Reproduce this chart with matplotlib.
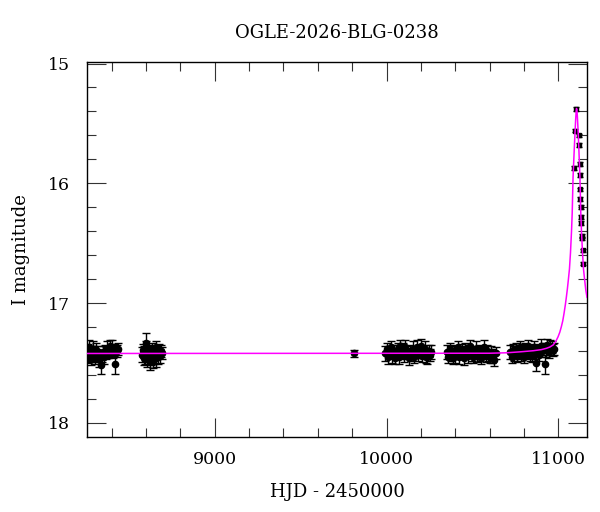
import matplotlib
matplotlib.use("Agg")
import matplotlib.pyplot as plt
from matplotlib.ticker import MultipleLocator

plt.rcParams['font.family'] = ['DejaVu Serif']

# season 1
t1 = [8260, 8265, 8270, 8275, 8280, 8285, 8290, 8295, 8300, 8305, 8310, 8316, 8322, 8328, 8334, 8340,
      8346, 8352, 8358, 8364, 8370, 8376, 8382, 8388, 8394, 8400, 8406, 8412, 8421, 8430, 8440]
m1 = [17.40, 17.45, 17.37, 17.43, 17.47, 17.41, 17.38, 17.44, 17.42, 17.46, 17.39, 17.43, 17.41, 17.47, 17.44, 17.52,
      17.44, 17.41, 17.45, 17.40, 17.42, 17.38, 17.41, 17.36, 17.40, 17.37, 17.41, 17.39, 17.51, 17.40, 17.38]
e1 = [0.06, 0.05, 0.06, 0.06, 0.05, 0.05, 0.06, 0.05, 0.06, 0.05, 0.06, 0.05, 0.05, 0.06, 0.05, 0.07,
      0.05, 0.05, 0.06, 0.05, 0.05, 0.06, 0.05, 0.05, 0.05, 0.06, 0.05, 0.05, 0.08, 0.05, 0.05]

# season 2
t2 = [8578, 8582, 8586, 8590, 8594, 8598, 8601, 8605, 8609, 8613, 8617, 8621, 8625, 8629,
      8633, 8637, 8641, 8645, 8649, 8653, 8657, 8661, 8665, 8670, 8676, 8682, 8688, 8694]
m2 = [17.43, 17.39, 17.46, 17.41, 17.45, 17.37, 17.33, 17.42, 17.47, 17.40, 17.45, 17.48, 17.41, 17.46,
      17.38, 17.43, 17.48, 17.40, 17.45, 17.42, 17.37, 17.46, 17.41, 17.45, 17.39, 17.44, 17.40, 17.42]
e2 = [0.06, 0.05, 0.06, 0.05, 0.06, 0.05, 0.08, 0.05, 0.06, 0.05, 0.06, 0.08, 0.05, 0.06,
      0.05, 0.06, 0.06, 0.05, 0.06, 0.05, 0.05, 0.07, 0.05, 0.06, 0.05, 0.06, 0.05, 0.05]

# single point
t_s = [9810]
m_s = [17.42]
e_s = [0.03]

# season 3
t3 = [9992, 10000, 10008, 10016, 10024, 10032, 10040, 10048, 10056, 10064, 10070, 10078, 10086, 10094,
      10102, 10110, 10118, 10128, 10136, 10144, 10152, 10160, 10168, 10176, 10184, 10192, 10198, 10206,
      10214, 10222, 10230, 10237, 10244, 10252, 10260]
m3 = [17.42, 17.38, 17.45, 17.41, 17.37, 17.44, 17.40, 17.46, 17.41, 17.38, 17.45, 17.36, 17.42, 17.39,
      17.44, 17.37, 17.41, 17.46, 17.40, 17.43, 17.38, 17.45, 17.41, 17.37, 17.43, 17.40, 17.36, 17.44,
      17.41, 17.38, 17.45, 17.45, 17.40, 17.43, 17.41]
e3 = [0.06, 0.05, 0.06, 0.05, 0.05, 0.06, 0.05, 0.05, 0.06, 0.05, 0.06, 0.05, 0.05, 0.06,
      0.05, 0.06, 0.05, 0.06, 0.05, 0.05, 0.06, 0.05, 0.05, 0.06, 0.05, 0.05, 0.06, 0.05,
      0.05, 0.06, 0.05, 0.06, 0.05, 0.05, 0.06]

# season 4
t4 = [10352, 10360, 10368, 10376, 10384, 10392, 10400, 10408, 10416, 10424, 10432, 10440, 10448, 10456,
      10464, 10472, 10480, 10488, 10496, 10504, 10512, 10520, 10528, 10536, 10544, 10552, 10560, 10568,
      10576, 10584, 10592, 10600, 10608, 10616, 10625, 10634]
m4 = [17.41, 17.45, 17.38, 17.42, 17.46, 17.40, 17.44, 17.41, 17.37, 17.45, 17.42, 17.39, 17.46, 17.38,
      17.41, 17.44, 17.40, 17.36, 17.42, 17.45, 17.41, 17.38, 17.44, 17.40, 17.42, 17.46, 17.41, 17.37,
      17.44, 17.40, 17.42, 17.45, 17.41, 17.44, 17.475, 17.42]
e4 = [0.06, 0.05, 0.05, 0.06, 0.05, 0.05, 0.06, 0.05, 0.05, 0.06, 0.05, 0.05, 0.06, 0.05,
      0.05, 0.06, 0.05, 0.05, 0.06, 0.05, 0.05, 0.06, 0.05, 0.05, 0.06, 0.05, 0.05, 0.06,
      0.05, 0.05, 0.06, 0.05, 0.05, 0.06, 0.05, 0.05]

# season 5
t5 = [10720, 10728, 10736, 10744, 10752, 10760, 10768, 10776, 10784, 10792, 10800, 10808, 10816, 10824,
      10832, 10840, 10848, 10856, 10864, 10872, 10880, 10888, 10896, 10904, 10912, 10920, 10928, 10936,
      10944, 10952, 10960, 10968, 10976]
m5 = [17.41, 17.45, 17.39, 17.42, 17.38, 17.44, 17.41, 17.37, 17.43, 17.40, 17.45, 17.38, 17.41, 17.36,
      17.43, 17.40, 17.44, 17.37, 17.41, 17.50, 17.39, 17.43, 17.36, 17.40, 17.38, 17.51, 17.39, 17.35,
      17.41, 17.37, 17.37, 17.39, 17.38]
e5 = [0.06, 0.05, 0.05, 0.06, 0.05, 0.05, 0.06, 0.05, 0.05, 0.06, 0.05, 0.05, 0.06, 0.05,
      0.05, 0.06, 0.05, 0.05, 0.06, 0.07, 0.05, 0.05, 0.06, 0.05, 0.05, 0.08, 0.06, 0.05,
      0.05, 0.06, 0.05, 0.05, 0.05]

# event points
t_ev = [11091, 11099, 11105, 11118, 11120, 11124, 11124, 11126, 11128, 11130, 11131, 11134, 11136, 11138, 11140, 11143]
m_ev = [15.87, 15.56, 15.38, 15.68, 15.60, 15.84, 15.93, 16.05, 16.13, 16.20, 16.28, 16.33, 16.44, 16.46, 16.56, 16.67]
e_ev = [0.015, 0.015, 0.015, 0.015, 0.015, 0.015, 0.015, 0.015, 0.015, 0.015, 0.015, 0.015, 0.015, 0.015, 0.015, 0.015]

# model curve
fit_t = [8257, 10600, 10700, 10780, 10854, 10900, 10930, 10950, 10969, 10985, 10998, 11008, 11017, 11025,
         11032, 11040, 11046, 11052, 11058, 11064, 11070, 11076, 11080, 11085, 11090, 11095, 11100, 11103,
         11105, 11107, 11110, 11115, 11120, 11125, 11130, 11134, 11140, 11146, 11152, 11159, 11166]
fit_m = [17.420, 17.418, 17.414, 17.406, 17.397, 17.388, 17.377, 17.366, 17.349, 17.318, 17.280, 17.242, 17.196, 17.148,
         17.090, 17.015, 16.950, 16.880, 16.800, 16.715, 16.580, 16.400, 16.250, 15.950, 15.780, 15.620, 15.470, 15.400,
         15.375, 15.385, 15.440, 15.580, 15.760, 15.950, 16.250, 16.400, 16.580, 16.720, 16.800, 16.890, 16.950]

fig = plt.figure(figsize=(6, 5.12), dpi=100)
ax = fig.add_axes([0.145, 0.1465, 0.8333, 0.7325])

for t, m, e in [(t1, m1, e1), (t2, m2, e2), (t_s, m_s, e_s), (t3, m3, e3), (t4, m4, e4), (t5, m5, e5)]:
    ax.errorbar(t, m, yerr=e, fmt='o', color='black', ms=4.5, elinewidth=1, capsize=3, capthick=1)
ax.errorbar(t_ev, m_ev, yerr=e_ev, fmt='s', color='black', ms=3, elinewidth=1, capsize=2, capthick=1)
ax.plot(fit_t, fit_m, color='#ff00ff', lw=1.1, zorder=5)

ax.set_xlim(8257, 11166)
ax.set_ylim(18.117, 14.987)
ax.xaxis.set_major_locator(MultipleLocator(1000))
ax.xaxis.set_minor_locator(MultipleLocator(200))
ax.yaxis.set_major_locator(MultipleLocator(1))
ax.yaxis.set_minor_locator(MultipleLocator(0.2))
ax.tick_params(which='both', direction='in', top=True, right=True, color='0.2', width=0.8)
ax.tick_params(which='major', length=14, labelsize=12.5)
ax.tick_params(axis='x', which='major', pad=10)
ax.tick_params(axis='y', which='major', pad=12)
ax.tick_params(which='minor', length=6.5)
for s in ax.spines.values():
    s.set_linewidth(1.0)

ax.set_xlabel('HJD - 2450000', fontsize=13, labelpad=11)
ax.set_ylabel('I magnitude', fontsize=13, labelpad=13)
ax.set_title('OGLE-2026-BLG-0238', fontsize=13, pad=17)

plt.savefig('out.png', dpi=100)
